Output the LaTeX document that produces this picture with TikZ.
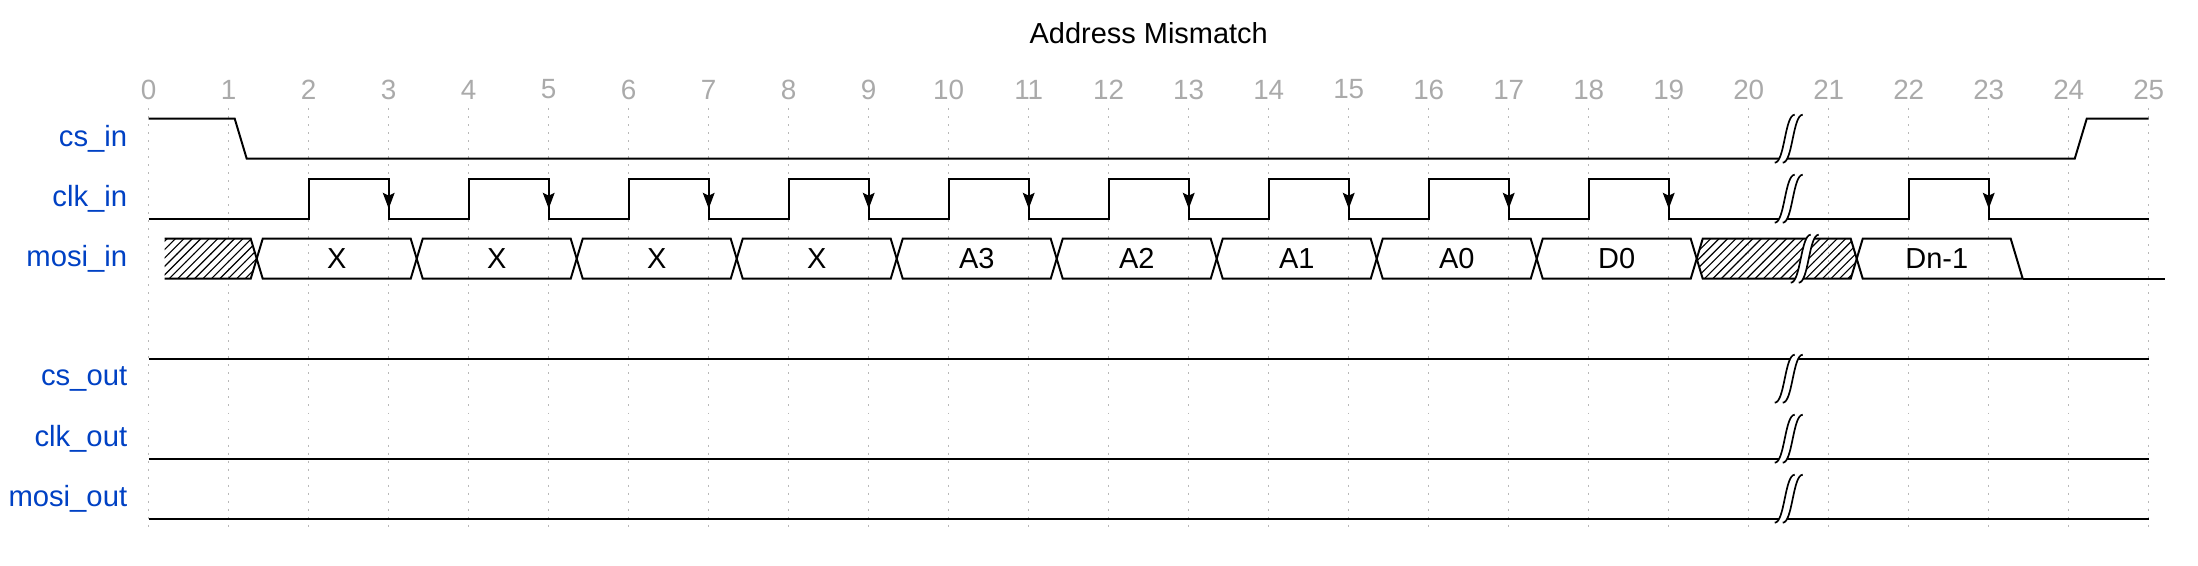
\documentclass[tikz,border=0pt]{standalone}
\usepackage{fontspec}
\setmainfont{Liberation Sans}
\usepackage{tikz}
\usetikzlibrary{patterns}
\definecolor{nameblue}{HTML}{0041C4}
\definecolor{tickgray}{HTML}{AAAAAA}
\tikzset{
  timing/.style={x=1cm,y=1cm,line join=miter},
  wave/.style={draw,line width=0.7pt},
  hatched/.style={wave,pattern=north east lines},
  tickline/.style={draw=gray!55,line width=0.4pt,dash pattern=on 0.7pt off 2.15pt},
  ticknum/.style={text=tickgray,font=\fontsize{9.9}{12}\selectfont,inner sep=0pt},
  signame/.style={text=nameblue,font=\fontsize{10.4}{12}\selectfont,anchor=east,inner sep=0pt},
  cell/.style={font=\fontsize{10.3}{12}\selectfont,inner sep=0pt},
  heading/.style={font=\fontsize{10.3}{12}\selectfont,inner sep=0pt}
}
\newcommand{\wavebreak}[2]{%
  \begin{scope}[shift={(#1,#2)},x=0.025cm,y=-0.025cm]
    \fill[white] (7,-2) -- (3,-2) .. controls (-2,-2) and (-2,22) .. (-7,22)
      -- (-3,22) .. controls (2,22) and (2,-2) .. (7,-2) -- cycle;
    \draw[line width=0.6pt] (-7,22) .. controls (-2,22) and (-2,-2) .. (3,-2);
    \draw[line width=0.6pt] (-3,22) .. controls (2,22) and (2,-2) .. (7,-2);
  \end{scope}}
\begin{document}
\begin{tikzpicture}[timing]
  \useasboundingbox (-1.859,1.484) rectangle (25.616,-5.591);

  \node[heading] (title) at (12.5,1.071) {Address Mismatch};
  \foreach \t in {0,...,25} {
    \draw[tickline] (\t,0.134) -- (\t,-5.1);
    \node[ticknum] (t\t) at (\t,0.365) {\t};
  }

  \node[signame] (csin) at (-0.2625,-0.25) {cs\_in};
  \node[signame] (clkin) at (-0.2625,-1) {clk\_in};
  \node[signame] (mosiin) at (-0.2625,-1.75) {mosi\_in};
  \node[signame] (csout) at (-0.2625,-3.25) {cs\_out};
  \node[signame] (clkout) at (-0.2625,-4) {clk\_out};
  \node[signame] (mosiout) at (-0.2625,-4.75) {mosi\_out};

  % cs_in
  \draw[wave] (0,0) -- (1.075,0) -- (1.225,-0.5) -- (24.075,-0.5) -- (24.225,0) -- (25,0);

  % clk_in
  \draw[wave] (0,-1.25) \foreach \t in {2,4,...,18} {
      -- (\t,-1.25) -- (\t,-0.75) -- (\t+1,-0.75) -- (\t+1,-1.25) }
    -- (22,-1.25) -- (22,-0.75) -- (23,-0.75) -- (23,-1.25) -- (25,-1.25);
  \foreach \t in {3,5,7,9,11,13,15,17,19,23}
    \fill (\t,-1.125) -- ++(-0.075,0.2) -- ++(0.075,-0.0375) -- ++(0.075,0.0375) -- cycle;

  % mosi_in
  \draw[hatched] (0.2,-1.5) -- (1.275,-1.5) -- (1.35,-1.75) -- (1.275,-2) -- (0.2,-2);
  \foreach \lbl [count=\i from 0] in {X,X,X,X,A3,A2,A1,A0,D0} {
    \pgfmathsetmacro\bnd{1.2+2*\i}
    \draw[wave] (\bnd+0.15,-1.75) -- (\bnd+0.225,-1.5) -- (\bnd+2.075,-1.5)
      -- (\bnd+2.15,-1.75) -- (\bnd+2.075,-2) -- (\bnd+0.225,-2) -- cycle;
    \node[cell] (d\i) at (\bnd+1.15,-1.75) {\lbl};
  }
  \draw[hatched] (19.35,-1.75) -- (19.425,-1.5) -- (21.275,-1.5) -- (21.35,-1.75)
    -- (21.275,-2) -- (19.425,-2) -- cycle;
  \draw[wave] (21.35,-1.75) -- (21.425,-1.5) -- (23.275,-1.5) -- (23.425,-2) -- (21.425,-2) -- cycle;
  \draw[wave] (23.425,-2) -- (25.2,-2);
  \node[cell] (dn) at (22.35,-1.75) {Dn-1};

  % outputs
  \draw[wave] (0,-3) -- (25,-3);
  \draw[wave] (0,-4.25) -- (25,-4.25);
  \draw[wave] (0,-5) -- (25,-5);

  % breaks
  \wavebreak{20.5}{0}
  \wavebreak{20.5}{-0.75}
  \wavebreak{20.7}{-1.5}
  \wavebreak{20.5}{-3}
  \wavebreak{20.5}{-3.75}
  \wavebreak{20.5}{-4.5}
\end{tikzpicture}
\end{document}
